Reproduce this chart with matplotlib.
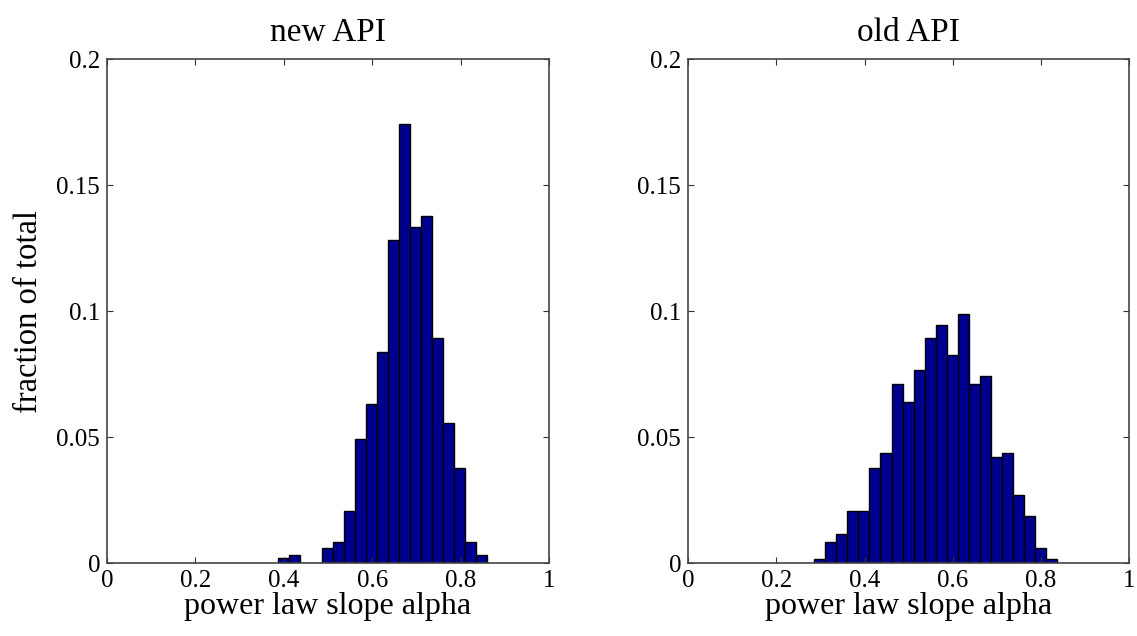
import numpy as np
import matplotlib
matplotlib.use("Agg")
import matplotlib.pyplot as plt

# histogram data
new_start = 0.3876
new_width = 0.0248
new_vals = [0.0020, 0.0032, 0.0, 0.0, 0.0060, 0.0083, 0.0209, 0.0492, 0.0631,
            0.0840, 0.1282, 0.1743, 0.1336, 0.1378, 0.0893, 0.0558, 0.0378,
            0.0083, 0.0032]

old_start = 0.2862
old_width = 0.0250
old_vals = [0.0017, 0.0083, 0.0115, 0.0209, 0.0209, 0.0377, 0.0437, 0.0713,
            0.0640, 0.0767, 0.0893, 0.0946, 0.0827, 0.0988, 0.0713, 0.0743,
            0.0421, 0.0437, 0.0270, 0.0187, 0.0060, 0.0017]

titles = ["new API", "old API"]
xticks = [0, 0.2, 0.4, 0.6, 0.8, 1]
xticklabels = ["0", "0.2", "0.4", "0.6", "0.8", "1"]
yticks = [0, 0.05, 0.1, 0.15, 0.2]
yticklabels = ["0", "0.05", "0.1", "0.15", "0.2"]

plt.rcParams['font.family'] = ['Liberation Serif', 'DejaVu Serif']

fig = plt.figure(figsize=(11.37, 6.36), dpi=100)
ax1 = fig.add_axes([0.0941, 0.1143, 0.3887, 0.7925])
ax2 = fig.add_axes([0.6051, 0.1143, 0.3881, 0.7925])

for ax, start, width, vals, title in [(ax1, new_start, new_width, new_vals, titles[0]),
                                      (ax2, old_start, old_width, old_vals, titles[1])]:
    edges = start + width * np.arange(len(vals))
    ax.bar(edges, vals, width=width, align='edge', color='#000090',
           edgecolor='black', linewidth=1.0)
    ax.set_xlim(0, 1)
    ax.set_ylim(0, 0.2)
    ax.set_xticks(xticks)
    ax.set_xticklabels(xticklabels)
    ax.set_yticks(yticks)
    ax.set_yticklabels(yticklabels)
    ax.tick_params(direction='in', top=True, right=True, length=4,
                   labelsize=18, color='#333333')
    ax.tick_params(axis='x', pad=5)
    ax.tick_params(axis='y', pad=5)
    for s in ax.spines.values():
        s.set_color('#444444')
        s.set_linewidth(1.2)
    ax.set_title(title, fontsize=24, pad=13)
    ax.set_xlabel("power law slope alpha", fontsize=23, labelpad=0)

ax1.set_ylabel("fraction of total", fontsize=23.5, labelpad=9)

fig.savefig("out.png", dpi=100)
